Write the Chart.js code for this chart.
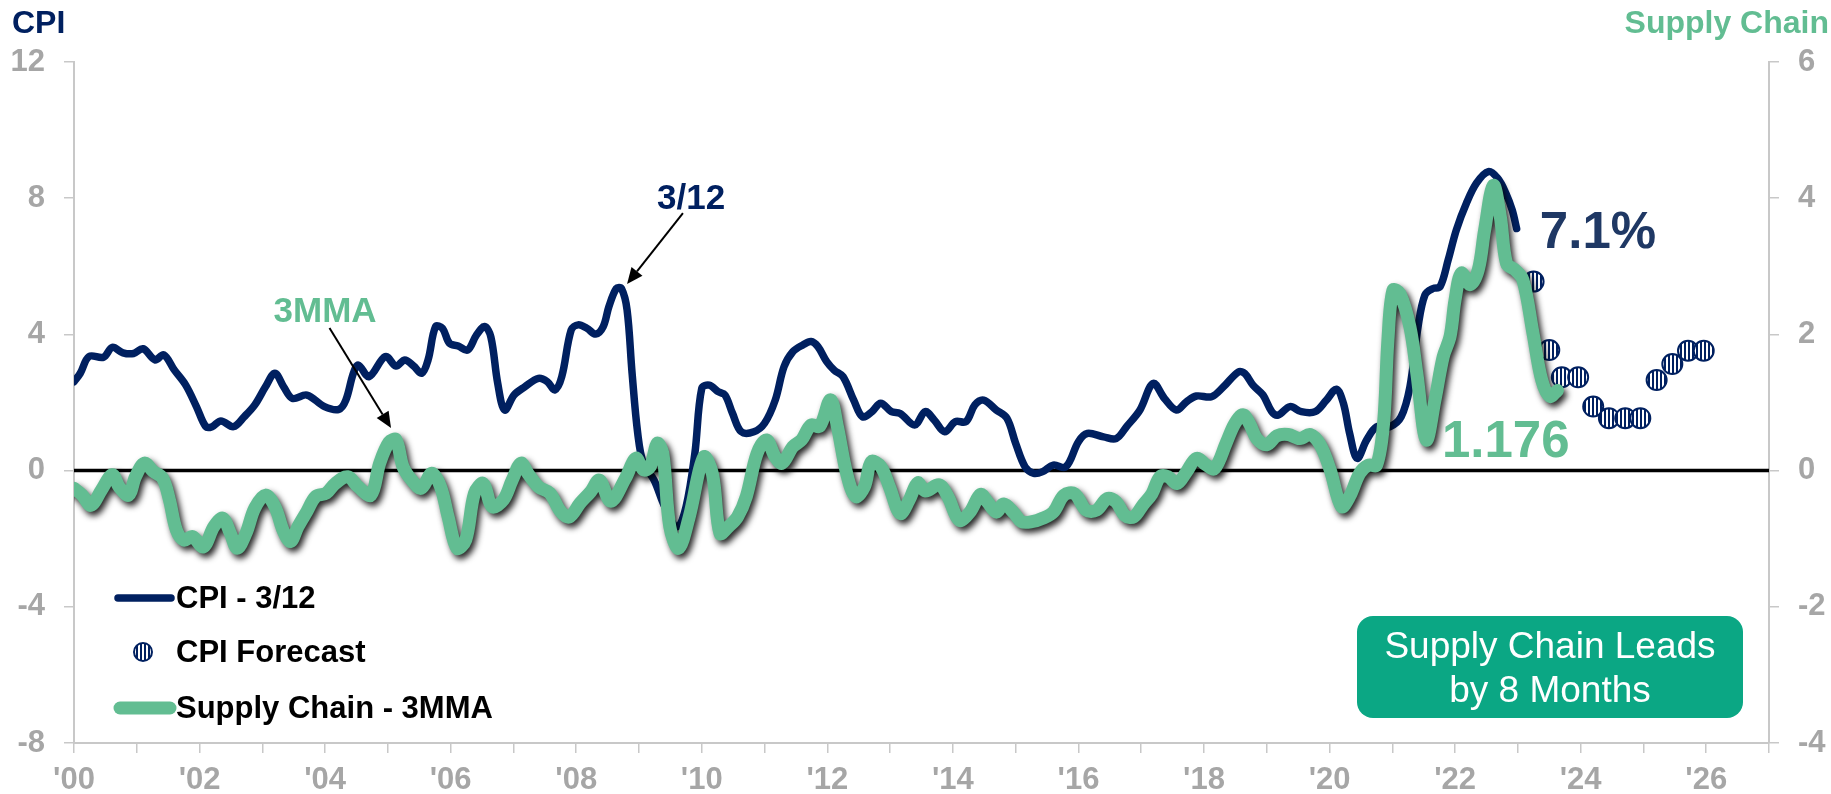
<!DOCTYPE html>
<html>
<head>
<meta charset="utf-8">
<script src="https://cdn.jsdelivr.net/npm/chart.js@4.4.0/dist/chart.umd.min.js"></script>
<style>
  html, body { margin: 0; padding: 0; background: #fff; }
  #chart { display: block; }
</style>
</head>
<body>
<canvas id="chart" width="1831" height="794"></canvas>
<script>
// CPI - 3/12 (left axis), decimal years
const cpiDates = [
  2000.00, 2000.10, 2000.24, 2000.47, 2000.61, 2000.78, 2000.95, 2001.10, 2001.29, 2001.43,
  2001.60, 2001.78, 2001.95, 2002.10, 2002.20, 2002.34, 2002.54, 2002.71, 2002.88, 2003.05,
  2003.20, 2003.34, 2003.48, 2003.71, 2003.99, 2004.22, 2004.33, 2004.45, 2004.53, 2004.70,
  2004.96, 2005.13, 2005.27, 2005.41, 2005.54, 2005.64, 2005.76, 2005.87, 2005.98, 2006.12,
  2006.27, 2006.41, 2006.54, 2006.64, 2006.75, 2006.86, 2007.01, 2007.18, 2007.40, 2007.54,
  2007.66, 2007.77, 2007.92, 2008.03, 2008.17, 2008.31, 2008.43, 2008.52, 2008.64, 2008.72,
  2008.81, 2008.89, 2008.98, 2009.07, 2009.24, 2009.41, 2009.61, 2009.75, 2009.89, 2010.00,
  2010.12, 2010.26, 2010.37, 2010.49, 2010.63, 2010.83, 2011.00, 2011.17, 2011.31, 2011.45,
  2011.61, 2011.74, 2011.85, 2011.99, 2012.11, 2012.25, 2012.42, 2012.56, 2012.71, 2012.85,
  2013.02, 2013.16, 2013.39, 2013.56, 2013.70, 2013.87, 2014.04, 2014.21, 2014.35, 2014.49,
  2014.69, 2014.86, 2015.00, 2015.15, 2015.29, 2015.43, 2015.60, 2015.80, 2016.00, 2016.14,
  2016.40, 2016.60, 2016.77, 2016.98, 2017.19, 2017.37, 2017.56, 2017.72, 2017.88, 2018.12,
  2018.31, 2018.55, 2018.65, 2018.78, 2018.94, 2019.08, 2019.18, 2019.37, 2019.55, 2019.77,
  2019.95, 2020.11, 2020.22, 2020.32, 2020.44, 2020.59, 2020.75, 2020.96, 2021.14, 2021.28,
  2021.41, 2021.52, 2021.65, 2021.76, 2021.89, 2022.02, 2022.18, 2022.34, 2022.53, 2022.68,
  2022.81, 2022.91, 2022.98
];
const cpiValues = [
  2.61, 2.86, 3.35, 3.33, 3.62, 3.46, 3.44, 3.58, 3.25, 3.40,
  2.95, 2.51, 1.88, 1.29, 1.29, 1.46, 1.29, 1.58, 1.93, 2.46,
  2.86, 2.46, 2.12, 2.22, 1.88, 1.80, 2.07, 2.86, 3.10, 2.76,
  3.35, 3.07, 3.25, 3.07, 2.86, 3.25, 4.23, 4.18, 3.74, 3.66,
  3.54, 3.98, 4.23, 3.93, 2.56, 1.78, 2.22, 2.46, 2.71, 2.61,
  2.37, 2.76, 4.13, 4.28, 4.18, 4.01, 4.23, 4.81, 5.35, 5.35,
  4.72, 2.86, 1.09, 0.21, -0.28, -1.06, -1.65, -1.06, 0.51, 2.42,
  2.51, 2.32, 2.22, 1.68, 1.14, 1.14, 1.39, 2.07, 3.05, 3.49,
  3.69, 3.79, 3.64, 3.20, 2.95, 2.76, 2.07, 1.58, 1.73, 1.98,
  1.73, 1.68, 1.34, 1.73, 1.49, 1.14, 1.44, 1.44, 1.93, 2.07,
  1.78, 1.54, 0.80, 0.11, -0.08, -0.03, 0.16, 0.11, 0.85, 1.09,
  0.99, 0.94, 1.30, 1.78, 2.56, 2.12, 1.78, 2.02, 2.19, 2.17,
  2.46, 2.90, 2.85, 2.51, 2.22, 1.73, 1.63, 1.88, 1.73, 1.73,
  2.07, 2.39, 1.98, 1.09, 0.36, 0.90, 1.29, 1.29, 1.58, 2.46,
  4.23, 5.16, 5.35, 5.40, 6.19, 7.07, 7.85, 8.44, 8.78, 8.58,
  8.14, 7.65, 7.11
];

// Supply Chain - 3MMA (right axis)
const supplyDates = [
  2000.00, 2000.13, 2000.27, 2000.44, 2000.61, 2000.72, 2000.87, 2000.98, 2001.12, 2001.26,
  2001.41, 2001.52, 2001.63, 2001.75, 2001.89, 2002.06, 2002.23, 2002.37, 2002.49, 2002.60,
  2002.74, 2002.88, 2003.05, 2003.20, 2003.34, 2003.45, 2003.57, 2003.71, 2003.85, 2004.02,
  2004.16, 2004.36, 2004.53, 2004.73, 2004.87, 2005.02, 2005.13, 2005.24, 2005.38, 2005.53,
  2005.70, 2005.84, 2005.96, 2006.10, 2006.24, 2006.38, 2006.52, 2006.66, 2006.84, 2006.98,
  2007.12, 2007.23, 2007.40, 2007.58, 2007.75, 2007.89, 2008.06, 2008.23, 2008.37, 2008.55,
  2008.78, 2008.95, 2009.07, 2009.18, 2009.29, 2009.38, 2009.49, 2009.63, 2009.80, 2010.03,
  2010.17, 2010.29, 2010.43, 2010.57, 2010.71, 2010.88, 2011.03, 2011.17, 2011.28, 2011.45,
  2011.59, 2011.74, 2011.88, 2012.05, 2012.16, 2012.31, 2012.45, 2012.59, 2012.70, 2012.85,
  2012.99, 2013.16, 2013.30, 2013.44, 2013.56, 2013.78, 2013.92, 2014.10, 2014.27, 2014.44,
  2014.55, 2014.69, 2014.81, 2014.98, 2015.09, 2015.26, 2015.43, 2015.60, 2015.77, 2015.94,
  2016.12, 2016.29, 2016.46, 2016.60, 2016.74, 2016.88, 2017.03, 2017.17, 2017.30, 2017.43,
  2017.57, 2017.72, 2017.88, 2018.04, 2018.17, 2018.36, 2018.49, 2018.62, 2018.73, 2018.84,
  2019.00, 2019.16, 2019.34, 2019.53, 2019.69, 2019.85, 2020.01, 2020.19, 2020.32, 2020.48,
  2020.62, 2020.75, 2020.86, 2020.93, 2021.01, 2021.12, 2021.28, 2021.39, 2021.54, 2021.68,
  2021.81, 2021.92, 2022.00, 2022.10, 2022.24, 2022.37, 2022.47, 2022.61, 2022.72, 2022.82,
  2022.95, 2023.08, 2023.24, 2023.38, 2023.51, 2023.63
];
const supplyValues = [
  -0.26, -0.36, -0.51, -0.28, -0.06, -0.24, -0.36, -0.09, 0.11, -0.01,
  -0.11, -0.43, -0.87, -1.02, -0.97, -1.12, -0.82, -0.70, -0.92, -1.14,
  -0.92, -0.55, -0.36, -0.53, -0.90, -1.04, -0.82, -0.60, -0.38, -0.33,
  -0.19, -0.09, -0.24, -0.36, 0.11, 0.42, 0.45, 0.06, -0.14, -0.26,
  -0.04, -0.24, -0.68, -1.14, -1.02, -0.33, -0.19, -0.53, -0.43, -0.14,
  0.11, -0.04, -0.24, -0.33, -0.60, -0.68, -0.48, -0.31, -0.14, -0.45,
  -0.12, 0.18, 0.01, 0.06, 0.40, 0.25, -0.82, -1.14, -0.68, 0.20,
  -0.05, -0.92, -0.82, -0.68, -0.38, 0.25, 0.45, 0.20, 0.11, 0.35,
  0.45, 0.67, 0.65, 1.04, 0.65, -0.05, -0.38, -0.24, 0.13, 0.06,
  -0.24, -0.63, -0.44, -0.18, -0.30, -0.21, -0.38, -0.73, -0.61, -0.35,
  -0.46, -0.61, -0.49, -0.63, -0.75, -0.75, -0.70, -0.61, -0.36, -0.34,
  -0.58, -0.58, -0.41, -0.46, -0.66, -0.68, -0.50, -0.34, -0.09, -0.09,
  -0.19, -0.02, 0.18, 0.08, 0.03, 0.42, 0.69, 0.82, 0.68, 0.47,
  0.38, 0.51, 0.53, 0.47, 0.53, 0.38, 0.01, -0.53, -0.38, -0.04,
  0.08, 0.08, 0.69, 1.92, 2.65, 2.60, 2.11, 1.43, 0.45, 1.04,
  1.67, 1.97, 2.51, 2.90, 2.73, 2.95, 3.53, 4.19, 3.73, 3.04,
  2.95, 2.80, 2.02, 1.33, 1.09, 1.176
];

// CPI Forecast (quarterly dots)
const forecastDates = [2023.25, 2023.50, 2023.70, 2023.96, 2024.20, 2024.45, 2024.71, 2024.95, 2025.21, 2025.46, 2025.71, 2025.96];
const forecastValues = [5.55, 3.54, 2.74, 2.74, 1.88, 1.54, 1.54, 1.54, 2.66, 3.13, 3.52, 3.52];

const cpiTicks = [-8, 12, 4];     // min, max, step
const supplyTicks = [-4, 6, 2];
const yearRange = [2000, 2027];

const NAVY = '#002060';
const GREEN = '#62bd92';
const GREY = '#a6a6a6';
const FONT = "'Liberation Sans', Arial, sans-serif";

// vertical stripe fill for forecast dots
function stripes() {
  const c = document.createElement('canvas');
  c.width = 4; c.height = 4;
  const g = c.getContext('2d');
  g.fillStyle = '#fff';
  g.fillRect(0, 0, 4, 4);
  g.fillStyle = NAVY;
  g.fillRect(0, 0, 2, 4);
  return g.createPattern(c, 'repeat');
}
const stripeFill = stripes();

function arrow(ctx, x1, y1, x2, y2) {
  const a = Math.atan2(y2 - y1, x2 - x1);
  const len = 16, half = 7;
  const bx = x2 - len * Math.cos(a), by = y2 - len * Math.sin(a);
  ctx.beginPath();
  ctx.moveTo(x1, y1);
  ctx.lineTo(bx, by);
  ctx.stroke();
  ctx.beginPath();
  ctx.moveTo(x2, y2);
  ctx.lineTo(bx + half * Math.sin(a), by - half * Math.cos(a));
  ctx.lineTo(bx - half * Math.sin(a), by + half * Math.cos(a));
  ctx.closePath();
  ctx.fill();
}

function roundRect(ctx, x, y, w, h, r) {
  ctx.beginPath();
  ctx.moveTo(x + r, y);
  ctx.arcTo(x + w, y, x + w, y + h, r);
  ctx.arcTo(x + w, y + h, x, y + h, r);
  ctx.arcTo(x, y + h, x, y, r);
  ctx.arcTo(x, y, x + w, y, r);
  ctx.closePath();
}

const overlay = {
  id: 'overlay',
  beforeDatasetsDraw(chart) {
    const { ctx, chartArea, scales } = chart;
    const y0 = scales.y.getPixelForValue(0);
    ctx.save();
    ctx.strokeStyle = '#000';
    ctx.lineWidth = 3.5;
    ctx.beginPath();
    ctx.moveTo(chartArea.left, y0);
    ctx.lineTo(chartArea.right, y0);
    ctx.stroke();
    ctx.restore();
  },
  beforeDatasetDraw(chart, args) {
    if (args.index === 0) {
      const ctx = chart.ctx;
      ctx.save();
      ctx.shadowColor = 'rgba(0,0,0,0.85)';
      ctx.shadowBlur = 6;
      ctx.shadowOffsetX = 3;
      ctx.shadowOffsetY = 4;
    }
  },
  afterDatasetDraw(chart, args) {
    if (args.index === 0) chart.ctx.restore();
  },
  afterDraw(chart) {
    const { ctx, scales } = chart;
    const X = v => scales.x.getPixelForValue(v);
    const Y = v => scales.y.getPixelForValue(v);
    ctx.save();

    // axis titles
    ctx.font = 'bold 32px ' + FONT;
    ctx.textBaseline = 'alphabetic';
    ctx.fillStyle = NAVY;
    ctx.textAlign = 'left';
    ctx.fillText('CPI', 12, 33);
    ctx.fillStyle = GREEN;
    ctx.textAlign = 'right';
    ctx.fillText('Supply Chain', 1829, 33);

    // callouts
    ctx.font = 'bold 35px ' + FONT;
    ctx.textAlign = 'center';
    ctx.fillStyle = NAVY;
    ctx.fillText('3/12', X(2009.83), Y(7.68));
    ctx.fillStyle = GREEN;
    ctx.fillText('3MMA', X(2004.0), Y(4.37));

    ctx.strokeStyle = '#000';
    ctx.fillStyle = '#000';
    ctx.lineWidth = 2;
    arrow(ctx, X(2009.70), Y(7.56), X(2008.81), Y(5.48));
    arrow(ctx, X(2004.07), Y(4.19), X(2005.05), Y(1.25));

    ctx.font = 'bold 51px ' + FONT;
    ctx.textAlign = 'left';
    ctx.fillStyle = '#1f3864';
    ctx.fillText(cpiValues[cpiValues.length - 1].toFixed(1) + '%', X(2023.35), Y(6.53));
    ctx.fillStyle = GREEN;
    ctx.fillText(String(supplyValues[supplyValues.length - 1]), X(2021.79), Y(0.40));

    // legend
    ctx.lineCap = 'round';
    ctx.strokeStyle = NAVY;
    ctx.lineWidth = 7.5;
    ctx.beginPath(); ctx.moveTo(118, 598); ctx.lineTo(171, 598); ctx.stroke();
    ctx.strokeStyle = GREEN;
    ctx.lineWidth = 13;
    ctx.beginPath(); ctx.moveTo(120, 708); ctx.lineTo(170, 708); ctx.stroke();
    ctx.beginPath();
    ctx.arc(143, 652, 9, 0, Math.PI * 2);
    ctx.fillStyle = stripeFill;
    ctx.fill();
    ctx.strokeStyle = NAVY;
    ctx.lineWidth = 2;
    ctx.stroke();

    ctx.font = 'bold 31px ' + FONT;
    ctx.fillStyle = '#000';
    ctx.textBaseline = 'middle';
    ctx.textAlign = 'left';
    ctx.fillText('CPI - 3/12', 176, 599);
    ctx.fillText('CPI Forecast', 176, 653);
    ctx.fillText('Supply Chain - 3MMA', 176, 709);

    // note box
    ctx.fillStyle = '#0ba784';
    roundRect(ctx, 1357, 616, 386, 102, 16);
    ctx.fill();
    ctx.fillStyle = '#fff';
    ctx.font = '37px ' + FONT;
    ctx.textAlign = 'center';
    ctx.fillText('Supply Chain Leads', 1550, 648);
    ctx.fillText('by 8 Months', 1550, 692);

    ctx.restore();
  }
};

const toPoints = (xs, ys) => xs.map((x, i) => ({ x: x, y: ys[i] }));

new Chart(document.getElementById('chart'), {
  type: 'line',
  data: {
    datasets: [
      {
        label: 'Supply Chain - 3MMA',
        data: toPoints(supplyDates, supplyValues),
        yAxisID: 'y2',
        borderColor: GREEN,
        borderWidth: 13,
        borderCapStyle: 'round',
        borderJoinStyle: 'round',
        pointRadius: 0,
        tension: 0.35,
        fill: false
      },
      {
        label: 'CPI Forecast',
        data: toPoints(forecastDates, forecastValues),
        yAxisID: 'y',
        showLine: false,
        pointRadius: 10,
        pointBackgroundColor: stripeFill,
        pointBorderColor: NAVY,
        pointBorderWidth: 2
      },
      {
        label: 'CPI - 3/12',
        data: toPoints(cpiDates, cpiValues),
        yAxisID: 'y',
        borderColor: NAVY,
        borderWidth: 7.5,
        borderCapStyle: 'round',
        borderJoinStyle: 'round',
        pointRadius: 0,
        tension: 0.35,
        fill: false
      }
    ]
  },
  options: {
    responsive: false,
    animation: false,
    devicePixelRatio: 1,
    layout: { padding: { top: 62, left: 0, right: 0, bottom: 0 } },
    plugins: {
      legend: { display: false },
      tooltip: { enabled: false }
    },
    scales: {
      x: {
        type: 'linear',
        min: yearRange[0],
        max: yearRange[1],
        afterFit: s => { s.height = 51; },
        border: { display: true, color: '#c8c8c8', width: 2 },
        grid: { display: true, drawOnChartArea: false, drawTicks: true, tickLength: 10, color: '#c8c8c8', lineWidth: 1.5 },
        ticks: {
          stepSize: 1,
          autoSkip: false,
          maxRotation: 0,
          padding: 9,
          color: GREY,
          font: { family: FONT, size: 31, weight: 'bold' },
          callback: v => (v % 2 === 0 && v < yearRange[1]) ? "'" + String(v).slice(2) : ''
        }
      },
      y: {
        position: 'left',
        min: cpiTicks[0],
        max: cpiTicks[1],
        afterFit: s => { s.width = 74; },
        border: { display: true, color: '#c8c8c8', width: 2 },
        grid: { display: true, drawOnChartArea: false, drawTicks: true, tickLength: 10, color: '#c8c8c8', lineWidth: 1.5 },
        ticks: {
          stepSize: cpiTicks[2],
          padding: 19,
          color: GREY,
          font: { family: FONT, size: 31, weight: 'bold' }
        }
      },
      y2: {
        position: 'right',
        min: supplyTicks[0],
        max: supplyTicks[1],
        afterFit: s => { s.width = 62; },
        border: { display: true, color: '#c8c8c8', width: 2 },
        grid: { display: true, drawOnChartArea: false, drawTicks: true, tickLength: 10, color: '#c8c8c8', lineWidth: 1.5 },
        ticks: {
          stepSize: supplyTicks[2],
          padding: 19,
          color: GREY,
          font: { family: FONT, size: 31, weight: 'bold' }
        }
      }
    }
  },
  plugins: [overlay]
});
</script>
</body>
</html>
